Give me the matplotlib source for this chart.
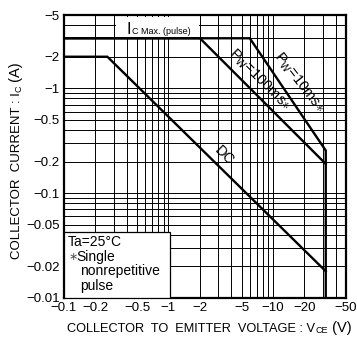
import numpy as np
import matplotlib
matplotlib.use("Agg")
import matplotlib.pyplot as plt
from matplotlib.patches import Rectangle
from matplotlib.ticker import FixedLocator, NullFormatter

plt.rcParams['font.family'] = ['Liberation Sans', 'DejaVu Sans']
plt.rcParams['mathtext.fontset'] = 'custom'
plt.rcParams['mathtext.rm'] = 'Liberation Sans'
plt.rcParams['mathtext.it'] = 'Liberation Sans:italic'

# Safe operating area, values as printed on the chart (negative)
pw10_vce = [-0.1, -6, -32, -32]
pw10_ic = [-3, -3, -0.255, -0.01]
pw100_vce = [-0.1, -2, -32]
pw100_ic = [-3, -3, -0.19]
dc_vce = [-0.1, -0.26, -32]
dc_ic = [-2, -2, -0.018]

x_ticks = [-0.1, -0.2, -0.5, -1, -2, -5, -10, -20, -50]
x_tick_labels = ["−0.1", "−0.2", "−0.5", "−1", "−2", "−5", "−10", "−20", "−50"]
y_ticks = [-0.01, -0.02, -0.05, -0.1, -0.2, -0.5, -1, -2, -5]
y_tick_labels = ["−0.01", "−0.02", "−0.05", "−0.1", "−0.2", "−0.5", "−1", "−2", "−5"]

W, H = 357, 345
fig = plt.figure(figsize=(W / 100, H / 100), dpi=100)
ax = fig.add_axes([64 / W, 1 - 298 / H, 282 / W, 283 / H])

ax.set_xscale('log')
ax.set_yscale('log')
ax.set_xlim(0.1, 50)
ax.set_ylim(0.01, 5)

curve = dict(color='black', lw=1.7, zorder=3, solid_joinstyle='miter')
ax.plot(-np.array(pw10_vce), -np.array(pw10_ic), **curve)
ax.plot(-np.array(pw100_vce), -np.array(pw100_ic), **curve)
ax.plot(-np.array(dc_vce), -np.array(dc_ic), **curve)

# log grid 1..9 per decade
decades = 10.0 ** np.arange(-2, 2)
minor = (decades[:, None] * np.arange(1, 10)).ravel()
ax.xaxis.set_minor_locator(FixedLocator(minor))
ax.yaxis.set_minor_locator(FixedLocator(minor))
ax.xaxis.set_minor_formatter(NullFormatter())
ax.yaxis.set_minor_formatter(NullFormatter())
ax.set_xticks(-np.array(x_ticks), x_tick_labels)
ax.set_yticks(-np.array(y_ticks), y_tick_labels)
ax.grid(which='both', color='black', lw=0.7)
ax.tick_params(which='both', length=0, pad=3, labelsize=9.5)
for s in ax.spines.values():
    s.set_linewidth(1.6)

# Ic max (pulse) label on white
ax.add_patch(Rectangle((0.315, 3.1), 1.96 - 0.315, 4.75 - 3.1,
                       facecolor='white', edgecolor='none', zorder=2))
t_i = ax.text(0.40, 3.33, "I", fontsize=12, ha='left', va='baseline', zorder=4)
ax.annotate("C Max. (pulse)", xy=(1, 0), xycoords=t_i, xytext=(0.5, 0.6),
            textcoords='offset points', fontsize=6.5, ha='left', va='bottom', zorder=4)

# curve labels
ax.text(7.4, 1.2, r"P$_{\mathregular{W}}$=100ms$\ast$", fontsize=10.5,
        rotation=-45, rotation_mode='anchor', ha='center', va='center', zorder=4)
ax.text(17.7, 1.13, r"P$_{\mathregular{W}}$=10ms$\ast$", fontsize=10.5,
        rotation=-52, rotation_mode='anchor', ha='center', va='center', zorder=4)
ax.text(3.4, 0.228, "DC", fontsize=10.5,
        rotation=-45, rotation_mode='anchor', ha='center', va='center', zorder=4)

# condition box
ax.add_patch(Rectangle((0, 0), 0.376, 0.233, transform=ax.transAxes,
                       facecolor='white', edgecolor='black', lw=0.9, zorder=4))
for txt, x, y in [("Ta=25°C", 0.014, 0.198), ("Single", 0.045, 0.145),
                  ("nonrepetitive", 0.057, 0.095), ("pulse", 0.057, 0.042)]:
    ax.text(x, y, txt, transform=ax.transAxes, fontsize=10,
            ha='left', va='center', zorder=5)
ax.text(0.016, 0.145, "∗", transform=ax.transAxes, fontsize=8, color='#555555',
        ha='left', va='center', zorder=5)

# axis titles
xl = fig.text(67 / W, 1 - 332 / H, "COLLECTOR  TO  EMITTER  VOLTAGE : V",
              fontsize=9.2, ha='left', va='baseline')
xl2 = ax.annotate("CE", xy=(1, 0), xycoords=xl, fontsize=6.5,
                  ha='left', va='bottom', annotation_clip=False)
ax.annotate(" (V)", xy=(1, 0), xycoords=xl2, fontsize=10.5,
            ha='left', va='bottom', annotation_clip=False)

yl = fig.text(17 / W, 1 - 259 / H, "COLLECTOR  CURRENT : I", rotation=90,
              fontsize=9.5, ha='center', va='bottom')
yl2 = ax.annotate("C", xy=(1, 1), xycoords=yl, fontsize=6.5, rotation=90,
                  ha='right', va='bottom', annotation_clip=False)
ax.annotate(" (A)", xy=(1, 1), xycoords=yl2, fontsize=10.5, rotation=90,
            ha='right', va='bottom', annotation_clip=False)

fig.savefig('out.png', dpi=100)
